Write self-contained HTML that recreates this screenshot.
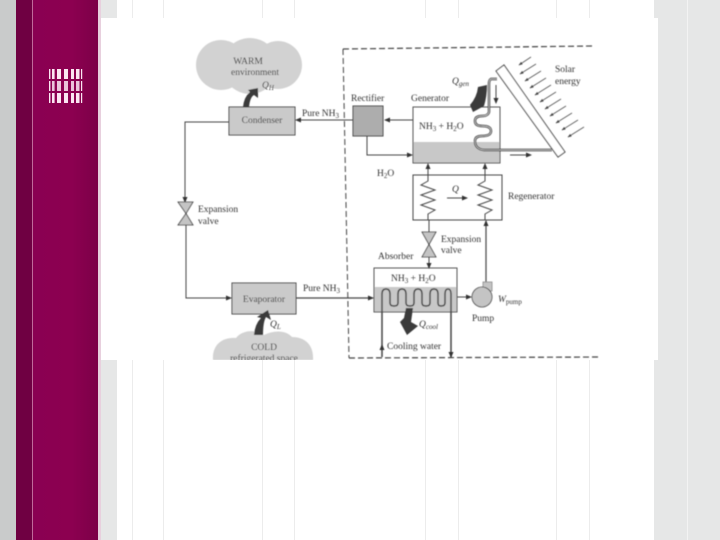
<!DOCTYPE html>
<html><head><meta charset="utf-8"><style>
html,body{margin:0;padding:0;width:720px;height:540px;overflow:hidden;background:#fff}
svg{display:block}
text{font-family:"Liberation Serif",serif;font-size:9.5px;fill:#333}
</style></head><body>
<svg width="720" height="540" viewBox="0 0 720 540" xmlns="http://www.w3.org/2000/svg">
<defs>
<linearGradient id="mag" x1="0" x2="1" y1="0" y2="0"><stop offset="0" stop-color="#8a0052"/><stop offset=".6" stop-color="#8c0050"/><stop offset="1" stop-color="#7c0048"/></linearGradient>
<marker id="a" markerWidth="6" markerHeight="5" refX="5" refY="2.500" orient="auto" markerUnits="userSpaceOnUse"><path d="M0 0L6 2.500L0 5Z" fill="#333"/></marker>
<marker id="r" markerWidth="4" markerHeight="3" refX="3.500" refY="1.500" orient="auto" markerUnits="userSpaceOnUse"><path d="M0 0L4 1.500L0 3Z" fill="#444"/></marker>
<filter id="b"><feGaussianBlur stdDeviation="0.45"/></filter>
<clipPath id="c"><rect x="101" y="18" width="557" height="342"/></clipPath>
</defs>
<rect width="720" height="540" fill="#fff"/>
<rect x="0" y="0" width="16" height="540" fill="#c9cbcb"/>
<rect x="16" y="0" width="16" height="540" fill="#6f0042"/>
<rect x="32" y="0" width="1" height="540" fill="#c06a9a"/>
<rect x="33" y="0" width="65" height="540" fill="url(#mag)"/>
<rect x="98" y="0" width="3" height="540" fill="#e8d0de"/>
<rect x="101" y="0" width="16" height="540" fill="#e6e7e7"/>
<rect x="654" y="0" width="66" height="540" fill="#e6e7e7"/>
<rect x="687" y="0" width="1" height="540" fill="#f3f3f3"/>
<g fill="#ececec">
<rect x="132" width="1" height="540"/><rect x="163" width="1" height="540"/><rect x="262" width="1" height="540"/><rect x="294" width="1" height="540"/><rect x="425" width="1" height="540"/><rect x="458" width="1" height="540"/><rect x="556" width="1" height="540"/><rect x="589" width="1" height="540"/>
</g>
<g fill="#fbe6f2">
<rect x="49" y="69" width="1.4" height="10"/><rect x="52" y="69" width="2.6" height="10"/><rect x="57" y="69" width="4" height="10"/><rect x="64" y="69" width="4" height="10"/><rect x="71" y="69" width="3" height="10"/><rect x="76" y="69" width="3.5" height="10"/><rect x="81" y="69" width="1.2" height="10"/>
<rect x="49" y="81" width="1.4" height="10"/><rect x="52" y="81" width="2.6" height="10" opacity=".85"/><rect x="57" y="81" width="4" height="10" opacity=".85"/><rect x="64" y="81" width="4" height="10" opacity=".85"/><rect x="71" y="81" width="3" height="10" opacity=".85"/><rect x="76" y="81" width="3.5" height="10" opacity=".85"/><rect x="81" y="81" width="1.2" height="10"/>
<rect x="49" y="93" width="1.4" height="10"/><rect x="52" y="93" width="2.6" height="10"/><rect x="57" y="93" width="4" height="10"/><rect x="64" y="93" width="4" height="10"/><rect x="71" y="93" width="3" height="10"/><rect x="76" y="93" width="3.5" height="10"/><rect x="81" y="93" width="1.2" height="10"/>
</g>
<rect x="101" y="18" width="557" height="342" fill="#fff"/>
<g clip-path="url(#c)"><g filter="url(#b)">
<g fill="#d2d2d2">
<circle cx="221" cy="65" r="25"/><circle cx="250" cy="66" r="28"/><circle cx="278" cy="65" r="24"/>
<path d="M213 360C212 345 222 337 236 338C242 330 256 329 264 335C274 330 286 330 292 337C306 337 314 346 313 360Z"/>
</g>
<g fill="#cacaca" stroke="#444" stroke-width="1">
<rect x="229" y="107" width="66" height="28"/>
<rect x="232" y="283" width="64" height="31"/>
</g>
<rect x="353" y="106" width="30" height="30" fill="#adadad" stroke="#444"/>
<rect x="413" y="142" width="87" height="21" fill="#c8c8c8"/>
<rect x="413" y="107" width="87" height="56" fill="none" stroke="#555"/>
<rect x="413" y="175" width="89" height="45" fill="none" stroke="#444"/>
<rect x="374" y="287" width="83" height="25" fill="#c8c8c8"/>
<rect x="374" y="268" width="83" height="44" fill="none" stroke="#555"/>
<path d="M496 71L504 65L565 152L558 157Z" fill="#fff" stroke="#333" stroke-width="1"/>
<g fill="none" stroke="#444" stroke-width="1">
<path d="M343 49L593 46" stroke-dasharray="6 3" stroke-width="1.2"/>
<path d="M343 49L349 358" stroke-dasharray="6 3"/>
<path d="M349 358L600 357" stroke-dasharray="6 3" stroke-width="1.2"/>
<path d="M229 122H185V202" marker-end="url(#a)"/>
<path d="M186 225V298H231" marker-end="url(#a)"/>
<path d="M353 120H296" marker-end="url(#a)"/>
<path d="M413 120H385" marker-end="url(#a)"/>
<path d="M367 136V155H412" marker-end="url(#a)"/>
<path d="M296 298H373" marker-end="url(#a)" stroke-width="1.3"/>
<path d="M428 175V164" marker-end="url(#a)"/>
<path d="M485 175V164" marker-end="url(#a)"/>
<path d="M428 175V181L421 185L435 190L421 195L435 200L421 205L435 210L428 214V220"/>
<path d="M485 175V181L478 185L492 190L478 195L492 200L478 205L492 210L485 214V220"/>
<path d="M447 198H467" marker-end="url(#a)"/>
<path d="M429 220V232"/>
<path d="M429 257V268" marker-end="url(#a)"/>
<path d="M486 282V221" marker-end="url(#a)" stroke-width="1.2"/>
<path d="M457 297H471" marker-end="url(#a)"/>
<path d="M497 79H491Q489 80 489 84V112Q488 116 482 116Q475 116 475 121Q475 126 482 126Q491 126 491 131Q491 136 482 136Q475 136 475 141Q475 149 484 150H552" stroke="#333" stroke-width="2.400"/>
<path d="M497 79H491Q489 80 489 84V112Q488 116 482 116Q475 116 475 121Q475 126 482 126Q491 126 491 131Q491 136 482 136Q475 136 475 141Q475 149 484 150H552" stroke="#ddd" stroke-width=".7"/>
<path d="M496 85V103" marker-end="url(#a)"/>
<path d="M510 155H531" marker-end="url(#a)"/>
<path d="M382 357V294Q382 289 386 289Q390 289 390 294V303Q390 306 394 306Q398 306 398 303V294Q398 289 402 289Q406 289 406 294V303Q406 306 410 306Q414 306 414 303V294Q414 289 418 289Q422 289 422 294V303Q422 306 426 306Q430 306 430 303V294Q430 289 434 289Q438 289 438 294V303Q438 306 441 306Q445 306 445 303V294Q445 289 448 289Q451 289 451 294V357" stroke-width="1.500"/>
<path d="M382 357V345" marker-end="url(#a)"/>
<path d="M451 345V357" marker-end="url(#a)"/>
</g>
<g stroke="#555" stroke-width=".8" fill="none">
<path d="M531 57L519 65" marker-end="url(#r)"/><path d="M536 64L520 74" marker-end="url(#r)"/><path d="M541 71L525 81" marker-end="url(#r)"/><path d="M546 78L530 88" marker-end="url(#r)"/><path d="M551 85L535 95" marker-end="url(#r)"/><path d="M556 92L540 102" marker-end="url(#r)"/><path d="M561 99L545 109" marker-end="url(#r)"/><path d="M566 106L550 116" marker-end="url(#r)"/><path d="M572 113L556 123" marker-end="url(#r)"/><path d="M578 120L562 130" marker-end="url(#r)"/><path d="M584 127L568 137" marker-end="url(#r)"/>
</g>
<g fill="#c4c4c4" stroke="#333" stroke-width=".8">
<path d="M178 202H193L186 213.500Z"/><path d="M186 213.500L178 225H193Z"/>
<path d="M422 232H436L429 244.500Z"/><path d="M429 244.500L422 257H436Z"/>
<rect x="483" y="282" width="9" height="9" stroke="#888"/>
<circle cx="482" cy="297" r="10"/>
</g>
<g fill="#3a3a3a">
<path d="M487 85L478 87Q477 97 470 105L473 112L484 106Q487 96 487 85Z"/>
<path d="M243 107L249 107Q250 97 254 95L258 98L258 88L248 90L250 92Q244 97 243 107Z"/>
<path d="M254 335L263 335Q263 322 266 317L271 320L268 310L257 317L261 318Q255 324 254 335Z"/>
<path d="M413 308L406 308L404 318L400 322L407 335L418 326L411 322Z"/>
</g>
<text x="248" y="64" text-anchor="middle">WARM</text>
<text x="255" y="75" text-anchor="middle">environment</text>
<text x="262" y="88" font-style="italic" font-size="11">Q<tspan font-size="7" dy="2">H</tspan></text>
<text x="262" y="123" text-anchor="middle">Condenser</text>
<text x="302" y="116">Pure NH<tspan font-size="7" dy="2">3</tspan></text>
<text x="351" y="101">Rectifier</text>
<text x="411" y="101">Generator</text>
<text x="452" y="84" font-style="italic" font-size="11">Q<tspan font-size="7" dy="2">gen</tspan></text>
<text x="555" y="72">Solar</text>
<text x="555" y="84">energy</text>
<text x="419" y="129" font-size="10">NH<tspan font-size="7" dy="2">3</tspan><tspan dy="-2"> + H</tspan><tspan font-size="7" dy="2">2</tspan><tspan dy="-2">O</tspan></text>
<text x="377" y="176">H<tspan font-size="7" dy="2">2</tspan><tspan dy="-2">O</tspan></text>
<text x="452" y="192" font-style="italic">Q</text>
<text x="508" y="199">Regenerator</text>
<text x="441" y="242">Expansion</text>
<text x="441" y="253">valve</text>
<text x="378" y="259">Absorber</text>
<text x="391" y="281" font-size="10">NH<tspan font-size="7" dy="2">3</tspan><tspan dy="-2"> + H</tspan><tspan font-size="7" dy="2">2</tspan><tspan dy="-2">O</tspan></text>
<text x="498" y="302" font-style="italic">W<tspan font-size="7" dy="2" font-style="normal">pump</tspan></text>
<text x="472" y="321">Pump</text>
<text x="419" y="327" font-style="italic" font-size="11">Q<tspan font-size="7" dy="2">cool</tspan></text>
<text x="387" y="349">Cooling water</text>
<text x="198" y="212">Expansion</text>
<text x="198" y="224">valve</text>
<text x="303" y="291">Pure NH<tspan font-size="7" dy="2">3</tspan></text>
<text x="264" y="302" text-anchor="middle">Evaporator</text>
<text x="270" y="327" font-style="italic" font-size="10">Q<tspan font-size="7" dy="2">L</tspan></text>
<text x="264" y="350" text-anchor="middle">COLD</text>
<text x="264" y="361" text-anchor="middle">refrigerated space</text>
</g></g>
</svg>
</body></html>
